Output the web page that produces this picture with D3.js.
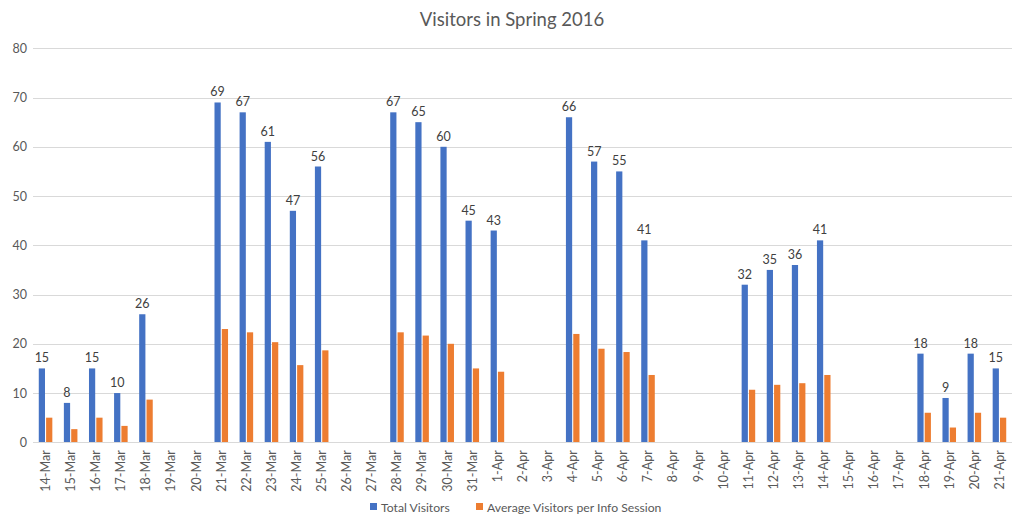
<!DOCTYPE html>
<html>
<head>
<meta charset="utf-8">
<script src="https://cdn.jsdelivr.net/npm/d3@7"></script>
<style>
  html, body { margin: 0; padding: 0; background: #fff; }
  svg { display: block; font-family: Lato, "Open Sans", sans-serif; }
</style>
</head>
<body>
<svg id="chart" width="1024" height="526"></svg>
<script>
const categories = ["14-Mar","15-Mar","16-Mar","17-Mar","18-Mar","19-Mar","20-Mar","21-Mar","22-Mar","23-Mar","24-Mar","25-Mar","26-Mar","27-Mar","28-Mar","29-Mar","30-Mar","31-Mar","1-Apr","2-Apr","3-Apr","4-Apr","5-Apr","6-Apr","7-Apr","8-Apr","9-Apr","10-Apr","11-Apr","12-Apr","13-Apr","14-Apr","15-Apr","16-Apr","17-Apr","18-Apr","19-Apr","20-Apr","21-Apr"];
const totalVisitors = [15,8,15,10,26,null,null,69,67,61,47,56,null,null,67,65,60,45,43,null,null,66,57,55,41,null,null,null,32,35,36,41,null,null,null,18,9,18,15];
const avgVisitors = [5,2.67,5,3.33,8.67,null,null,23,22.33,20.33,15.67,18.67,null,null,22.33,21.67,20,15,14.33,null,null,22,19,18.33,13.67,null,null,null,10.67,11.67,12,13.67,null,null,null,6,3,6,5];
const seriesNames = ["Total Visitors","Average Visitors per Info Session"];
const yTicks = [0,10,20,30,40,50,60,70,80];
const colors = ["#4472C4","#ED7D31"];

const svg = d3.select("#chart");
const mLeft = 33, mRight = 1012, mTop = 48.3, mBottom = 442.3;

const x = d3.scaleBand().domain(categories).range([mLeft, mRight]).paddingInner(0.46).paddingOuter(0.23);
const x1 = d3.scaleBand().domain([0,1]).range([0, x.bandwidth()]).paddingInner(0.15);
const y = d3.scaleLinear().domain([0,80]).range([mBottom, mTop]);

// title
svg.append("text").attr("x", 512).attr("y", 26).attr("text-anchor","middle")
  .attr("font-size", 18.5).attr("fill","#595959").text("Visitors in Spring 2016");

// gridlines
svg.append("g").selectAll("line").data(yTicks).join("line")
  .attr("x1", mLeft).attr("x2", mRight)
  .attr("y1", d => Math.round(y(d)) + 0.5).attr("y2", d => Math.round(y(d)) + 0.5)
  .attr("stroke", "#D9D9D9").attr("stroke-width", 1);

// y axis labels
const yAxis = d3.axisLeft(y).tickValues(yTicks).tickSize(0).tickPadding(0);
const gy = svg.append("g").attr("transform", `translate(${27},0)`).call(yAxis);
gy.select(".domain").remove();
gy.selectAll("text").attr("font-size", 12.5).attr("fill", "#595959").attr("font-family", "Lato, 'Open Sans', sans-serif");

// x axis labels
const xAxis = d3.axisBottom(x).tickSize(0).tickPadding(0);
const gx = svg.append("g").attr("transform", `translate(0,${mBottom})`).call(xAxis);
gx.select(".domain").remove();
gx.selectAll("text")
  .attr("font-size", 12.5).attr("fill", "#595959").attr("font-family", "Lato, 'Open Sans', sans-serif")
  .attr("transform", "rotate(-90)")
  .attr("text-anchor", "end")
  .attr("x", -8).attr("y", 0).attr("dy", "0.35em");

// bars
const data = [totalVisitors, avgVisitors];
data.forEach((vals, si) => {
  svg.append("g").selectAll("rect")
    .data(categories.map((c, i) => ({c, v: vals[i]})).filter(d => d.v !== null))
    .join("rect")
    .attr("x", d => x(d.c) + x1(si))
    .attr("width", x1.bandwidth())
    .attr("y", d => y(d.v))
    .attr("height", d => y(0) - y(d.v))
    .attr("fill", colors[si]);
});

// data labels for totals
svg.append("g").selectAll("text")
  .data(categories.map((c, i) => ({c, v: totalVisitors[i]})).filter(d => d.v !== null))
  .join("text")
  .attr("x", d => x(d.c) + x1(0) + x1.bandwidth()/2)
  .attr("y", d => y(d.v) - 6)
  .attr("text-anchor", "middle")
  .attr("font-size", 12.5).attr("fill", "#404040")
  .text(d => d.v);

// axis baseline
svg.append("line").attr("x1", mLeft).attr("x2", mRight)
  .attr("y1", Math.round(y(0)) + 0.5).attr("y2", Math.round(y(0)) + 0.5)
  .attr("stroke", "#D9D9D9");

// legend
const legend = svg.append("g");
const legendItems = [{x: 370, name: seriesNames[0], c: colors[0]}, {x: 476, name: seriesNames[1], c: colors[1]}];
legendItems.forEach(it => {
  legend.append("rect").attr("x", it.x).attr("y", 503).attr("width", 7).attr("height", 7).attr("fill", it.c);
  legend.append("text").attr("x", it.x + 11).attr("y", 511.5).attr("font-size", 12.2).attr("fill", "#595959").text(it.name);
});
</script>
</body>
</html>
